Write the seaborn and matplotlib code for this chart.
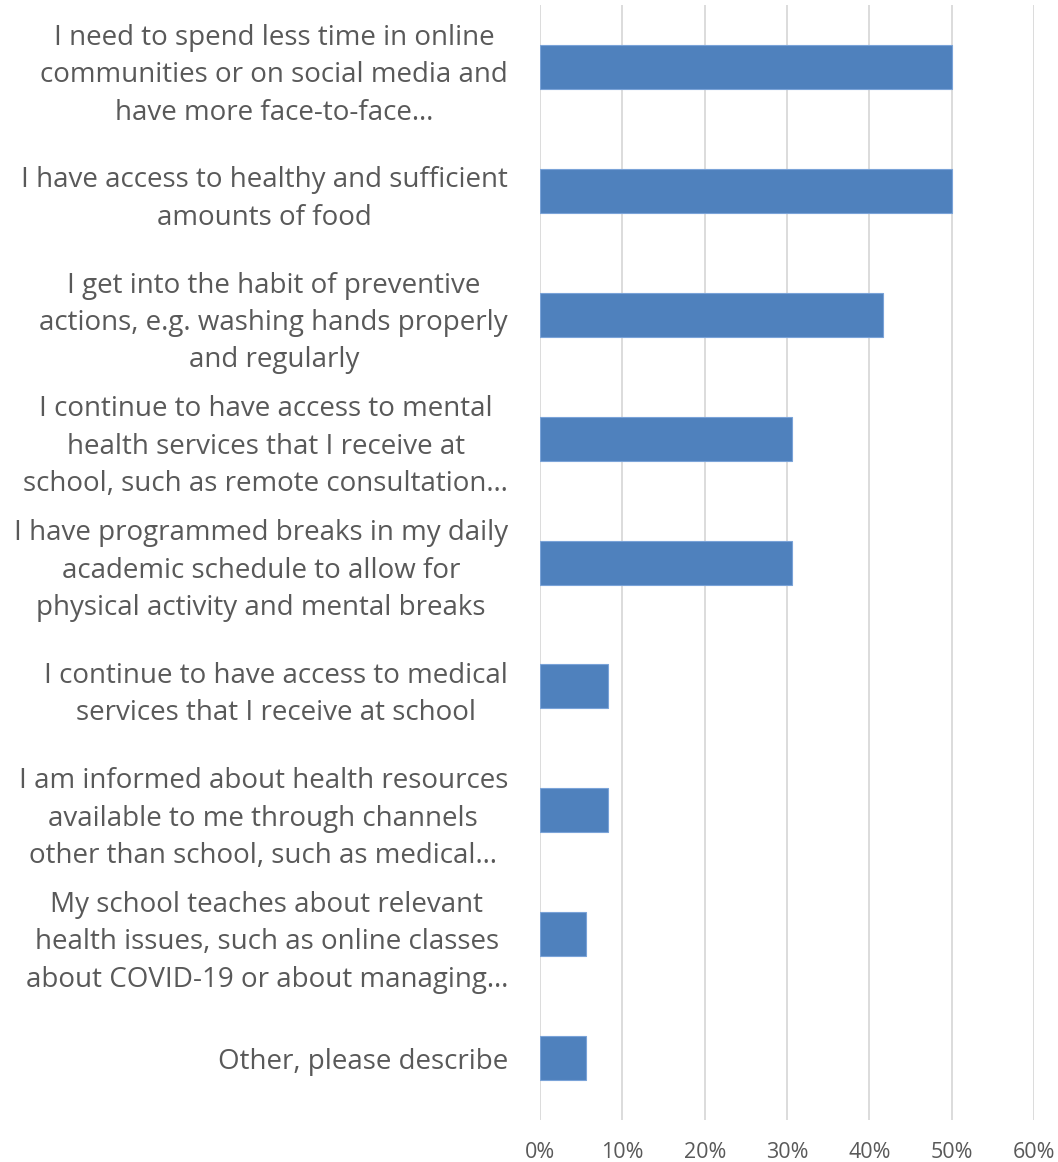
import matplotlib
matplotlib.use("Agg")
import matplotlib.pyplot as plt
import seaborn as sns
import pandas as pd
from matplotlib.ticker import PercentFormatter, MultipleLocator

categories = [
    "I need to spend less time in online\ncommunities or on social media and\nhave more face-to-face…",
    "I have access to healthy and sufficient\namounts of food",
    "I get into the habit of preventive\nactions, e.g. washing hands properly\nand regularly",
    "I continue to have access to mental\nhealth services that I receive at\nschool, such as remote consultation…",
    "I have programmed breaks in my daily\nacademic schedule to allow for\nphysical activity and mental breaks",
    "I continue to have access to medical\nservices that I receive at school",
    "I am informed about health resources\navailable to me through channels\nother than school, such as medical…",
    "My school teaches about relevant\nhealth issues, such as online classes\nabout COVID-19 or about managing…",
    "Other, please describe",
]
shares = [0.500, 0.500, 0.417, 0.306, 0.306, 0.083, 0.083, 0.056, 0.056]

df = pd.DataFrame({"option": categories, "share": shares})

sns.set_theme(style="white")
plt.rcParams["font.family"] = ["Open Sans", "DejaVu Sans"]

fig = plt.figure(figsize=(10.58, 11.62), dpi=100)
ax = fig.add_axes([0.5104, 0.0361, 0.467, 0.9596])

sns.barplot(data=df, x="share", y="option", orient="h", color="#4F81BD",
            saturation=1, width=0.355, edgecolor="#7AA3D8", linewidth=0.8, ax=ax)

ax.set_xlim(0, 0.6)
ax.xaxis.set_major_locator(MultipleLocator(0.1))
ax.xaxis.set_major_formatter(PercentFormatter(1.0, decimals=0))
ax.grid(axis="x", color="#D9D9D9", linewidth=1.3)
ax.set_axisbelow(True)
for s in ax.spines.values():
    s.set_visible(False)
ax.set_xlabel("")
ax.set_ylabel("")
ax.tick_params(axis="x", length=0, pad=16, labelsize=15.5, labelcolor="#595959")
ax.tick_params(axis="y", length=0, pad=23, labelsize=20, labelcolor="#595959")
for lbl in ax.get_yticklabels():
    lbl.set_multialignment("center")
    lbl.set_linespacing(1.45)

fig.savefig("out.png", dpi=100)
